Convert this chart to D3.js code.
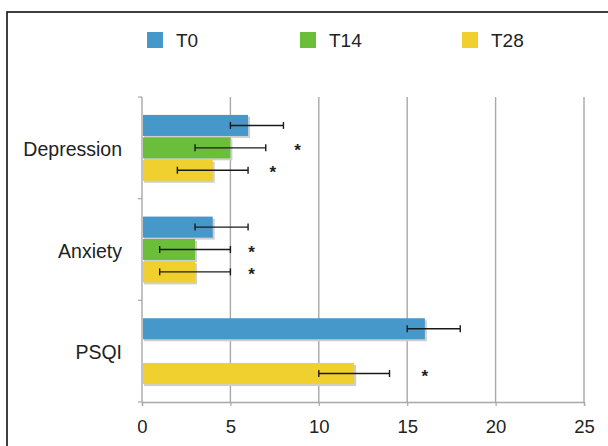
<!DOCTYPE html>
<html>
<head>
<meta charset="utf-8">
<script src="https://cdn.jsdelivr.net/npm/d3@7"></script>
<style>
  html, body { margin: 0; padding: 0; background: #fff; }
  svg { display: block; }
  text { font-family: "Liberation Sans", Arial, Helvetica, sans-serif; fill: #222; }
</style>
</head>
<body>
<svg id="chart" width="608" height="446"></svg>
<script>
// ---- data ----
const categories = ["Depression", "Anxiety", "PSQI"];
const seriesNames = ["T0", "T14", "T28"];
const seriesColors = ["#4697CA", "#6BBE3A", "#EFD02E"];
const valuesT0  = [6, 4, 16];
const valuesT14 = [5, 3, null];
const valuesT28 = [4, 3, 12];
const errLowT0  = [5, 3, 15];
const errLowT14 = [3, 1, null];
const errLowT28 = [2, 1, 10];
const errHighT0  = [8, 6, 18];
const errHighT14 = [7, 5, null];
const errHighT28 = [6, 5, 14];
const starT0  = [null, null, null];
const starT14 = [8.8, 6.2, null];
const starT28 = [7.4, 6.2, 16];
const xTicks = [0, 5, 10, 15, 20, 25];

const values = [valuesT0, valuesT14, valuesT28];
const errLow = [errLowT0, errLowT14, errLowT28];
const errHigh = [errHighT0, errHighT14, errHighT28];
const stars = [starT0, starT14, starT28];

const rows = [];
seriesNames.forEach((s, si) => {
  categories.forEach((c, ci) => {
    if (values[si][ci] != null) {
      rows.push({cat: c, series: s, si, value: values[si][ci],
        lo: errLow[si][ci], hi: errHigh[si][ci], star: stars[si][ci]});
    }
  });
});

// ---- layout ----
const svg = d3.select("#chart");
const pLeft = 142, pRight = 584, pTop = 97, pBottom = 402;

// frame (top and left visible, others cut)
svg.append("rect").attr("x", 7).attr("y", 12).attr("width", 700).attr("height", 600)
  .attr("fill", "none").attr("stroke", "#111").attr("stroke-width", 1.6);

const x = d3.scaleLinear().domain([0, 25]).range([pLeft, pRight]);
const y = d3.scaleBand().domain(categories).range([pTop, pBottom]).padding(0);
const ys = d3.scaleBand().domain(seriesNames).range([0, y.bandwidth()])
  .paddingInner(0.06).paddingOuter(0.8);

// gridlines
svg.append("g").selectAll("line").data(xTicks.filter(t => t > 0)).join("line")
  .attr("x1", d => x(d)).attr("x2", d => x(d))
  .attr("y1", pTop).attr("y2", pBottom)
  .attr("stroke", "#a8a8a8").attr("stroke-width", 1.4);

// x axis
const xAxis = svg.append("g").attr("transform", `translate(0,${pBottom})`)
  .call(d3.axisBottom(x).tickValues(xTicks).tickSize(4).tickPadding(14));
xAxis.select(".domain").attr("stroke", "#a8a8a8").attr("stroke-width", 1.4);
xAxis.selectAll(".tick line").attr("stroke", "#a8a8a8").attr("stroke-width", 1.2);
xAxis.selectAll(".tick text").style("font-size", "18.5px").attr("fill", "#222")
  .style("font-family", "Liberation Sans, Arial, sans-serif");

// y axis line with boundary ticks
const yAxis = svg.append("g").attr("transform", `translate(${pLeft},0)`);
yAxis.append("line").attr("x1", 0).attr("x2", 0).attr("y1", pTop).attr("y2", pBottom)
  .attr("stroke", "#a8a8a8").attr("stroke-width", 1.4);
const boundaries = categories.map(c => y(c)).concat([pBottom]);
yAxis.selectAll("line.bt").data(boundaries).join("line").attr("class", "bt")
  .attr("x1", -4).attr("x2", 0).attr("y1", d => d).attr("y2", d => d)
  .attr("stroke", "#a8a8a8").attr("stroke-width", 1.2);
yAxis.selectAll("text").data(categories).join("text")
  .attr("x", -20).attr("y", d => y(d) + y.bandwidth() / 2 + 1.5)
  .attr("dy", "0.35em").attr("text-anchor", "end")
  .style("font-size", "19.5px").text(d => d);

// bars
const barY = d => y(d.cat) + ys(d.series);
const bh = ys.bandwidth();
const g = svg.append("g");
g.selectAll("rect.shadow").data(rows).join("rect").attr("class", "shadow")
  .attr("x", x(0) + 2).attr("y", d => barY(d) + 2)
  .attr("width", d => x(d.value) - x(0)).attr("height", bh)
  .attr("fill", "#cfcfcf");
g.selectAll("rect.bar").data(rows).join("rect").attr("class", "bar")
  .attr("x", x(0) + 1).attr("y", d => barY(d))
  .attr("width", d => x(d.value) - x(0) - 1).attr("height", bh)
  .attr("fill", d => seriesColors[d.si]);

// error bars
const eb = svg.append("g").attr("stroke", "#1a1a1a").attr("stroke-width", 1.4);
rows.forEach(d => {
  const cy = barY(d) + bh / 2;
  eb.append("line").attr("x1", x(d.lo)).attr("x2", x(d.hi)).attr("y1", cy).attr("y2", cy);
  [d.lo, d.hi].forEach(v => {
    eb.append("line").attr("x1", x(v)).attr("x2", x(v)).attr("y1", cy - 3.5).attr("y2", cy + 3.5);
  });
});

// significance stars
svg.append("g").selectAll("text").data(rows.filter(d => d.star != null)).join("text")
  .attr("x", d => x(d.star)).attr("y", d => barY(d) + bh / 2 + 8)
  .attr("text-anchor", "middle").style("font-size", "17px").style("font-weight", "bold").text("*");

// legend
const legendX = [147, 300, 462];
const lg = svg.append("g");
seriesNames.forEach((s, i) => {
  lg.append("rect").attr("x", legendX[i]).attr("y", 32).attr("width", 16).attr("height", 16)
    .attr("fill", seriesColors[i]);
  lg.append("text").attr("x", legendX[i] + 29).attr("y", 40).attr("dy", "0.35em")
    .style("font-size", "19px").text(s);
});
</script>
</body>
</html>
